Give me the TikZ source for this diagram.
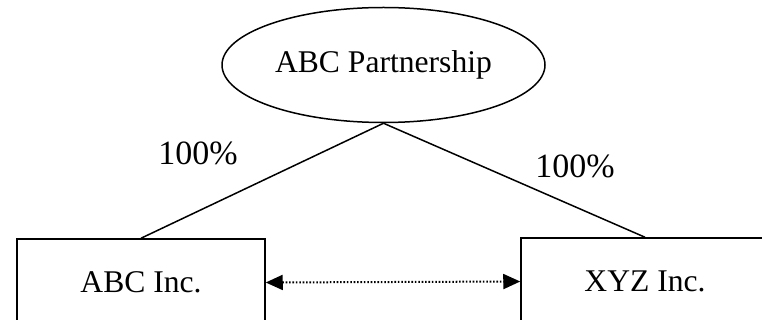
\documentclass[tikz,border=0pt]{standalone}
\usepackage{fontspec}
\setmainfont{Liberation Serif}
\usetikzlibrary{shapes.geometric,arrows.meta}

\tikzset{
  outline/.style={draw=black, line width=1.5pt},
  entity/.style={outline, rectangle, minimum width=248pt, minimum height=87pt,
                 inner sep=0pt, font=\fontsize{31.6}{36}\selectfont},
  owner/.style={outline, ellipse, minimum width=323pt, minimum height=115pt,
                inner sep=0pt, font=\fontsize{31.6}{36}\selectfont},
  link/.style={draw=black, line width=1.5pt},
  share/.style={font=\fontsize{34}{38}\selectfont, inner sep=0pt},
  tip/.style={Triangle[length=17pt,width=15pt]},
  affiliate/.style={draw=black, line width=2pt, dash pattern=on 1.6pt off 1.8pt,
                    {Triangle[length=17pt,width=15pt]}-{Triangle[length=17pt,width=15pt]}}
}

\begin{document}
\begin{tikzpicture}[x=1pt,y=-1pt]
  \useasboundingbox (0,0) rectangle (762,320);
  \clip (0,0) rectangle (762,320);

  % parent and the two subsidiaries
  \node[owner]  (p)   at (383.5,65)  {ABC Partnership};
  \node[entity] (abc) at (141,282.5) {ABC Inc.};
  \node[entity] (xyz) at (645,281.5) {XYZ Inc.};

  % ownership lines
  \draw[link] (p.south) -- (abc.north);
  \draw[link] (p.south) -- (xyz.north);

  % ownership percentages
  \node[share] (sa) at (198,153.5) {100\%};
  \node[share] (sx) at (575,166.5) {100\%};

  % relationship between the subsidiaries
  \draw[affiliate] (abc.east) -- (xyz.west);
\end{tikzpicture}
\end{document}
